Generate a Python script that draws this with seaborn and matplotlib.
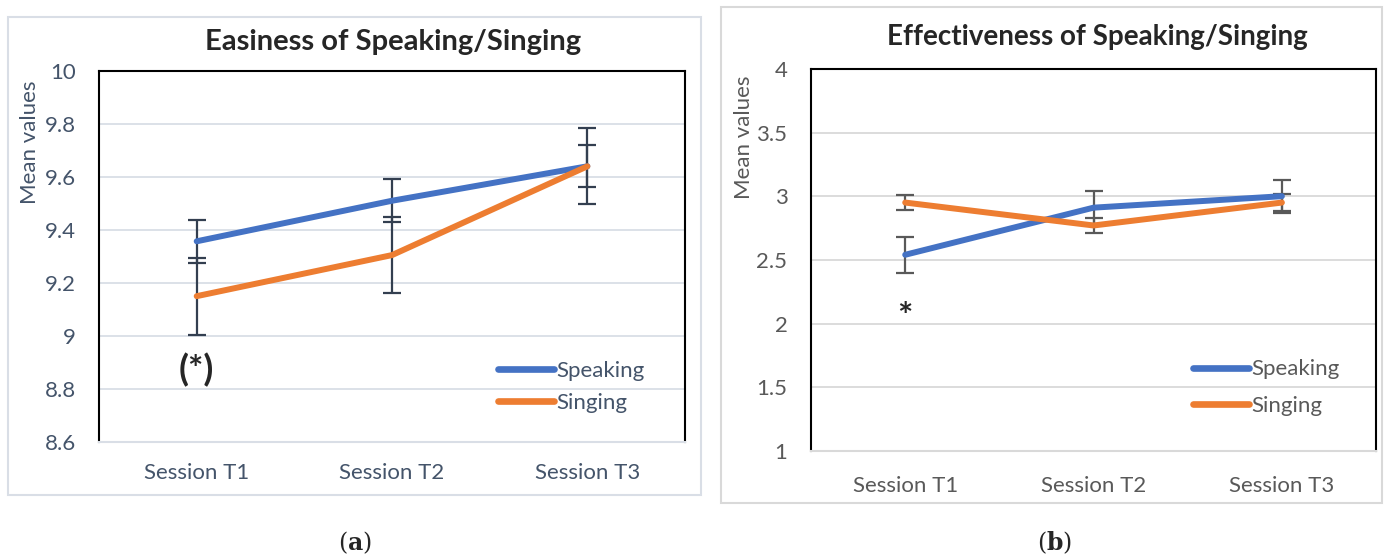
import pandas as pd
import numpy as np
import matplotlib
matplotlib.use('Agg')
import matplotlib.pyplot as plt
import seaborn as sns
from matplotlib.patches import Rectangle
from matplotlib.ticker import FuncFormatter, MultipleLocator

# data
sessions = ['Session T1', 'Session T2', 'Session T3']
ease_speaking = [9.357, 9.51, 9.64]
ease_speaking_err = [0.081, 0.082, 0.08]
ease_singing = [9.15, 9.305, 9.64]
ease_singing_err = [0.145, 0.143, 0.144]

eff_speaking = [2.54, 2.91, 3.0]
eff_speaking_err = [0.14, 0.13, 0.13]
eff_singing = [2.95, 2.77, 2.95]
eff_singing_err = [0.06, 0.06, 0.065]

series = ['Speaking', 'Singing']
colors = {'Speaking': '#4472C4', 'Singing': '#ED7D31'}

sns.set_style('white')
plt.rcParams['font.family'] = ['Lato', 'DejaVu Sans']

fig = plt.figure(figsize=(13.89, 5.58), dpi=100)

# outer chart frames
fig.patches.append(Rectangle((0.0058, 0.113), 0.499, 0.857, transform=fig.transFigure,
                             fill=False, edgecolor='#D9DEE6', lw=1.5))
fig.patches.append(Rectangle((0.519, 0.099), 0.476, 0.889, transform=fig.transFigure,
                             fill=False, edgecolor='#D9D9D9', lw=1.5))

ax1 = fig.add_axes([0.0713, 0.208, 0.4219, 0.665])
ax2 = fig.add_axes([0.5839, 0.192, 0.4068, 0.6846])

FS = 16


def draw_panel(ax, spk, spk_err, sng, sng_err, txt_color, grid_color, err_color,
               ylim, step, leg_anchor, leg_spacing, ypad, xpad, xticks_marks):
    df = pd.DataFrame({
        'session': sessions * 2,
        'mean': spk + sng,
        'err': spk_err + sng_err,
        'series': ['Speaking'] * 3 + ['Singing'] * 3,
    })
    for s in series:
        sub = df[df['series'] == s]
        ax.errorbar(sub['session'], sub['mean'], yerr=sub['err'], fmt='none',
                    ecolor=err_color, elinewidth=1.6, capsize=6.5, capthick=1.6, zorder=2)
    sns.lineplot(data=df, x='session', y='mean', hue='series', palette=colors,
                 hue_order=series, sort=False, lw=4.3, ax=ax, zorder=3,
                 solid_capstyle='round')
    ax.set_xlim(-0.5, 2.5)
    ax.set_ylim(*ylim)
    ax.yaxis.set_major_locator(MultipleLocator(step))
    ax.yaxis.set_major_formatter(FuncFormatter(lambda v, _: f'{v:g}'))
    ax.grid(axis='y', color=grid_color, lw=1.3)
    ax.set_axisbelow(True)
    ax.set_xlabel('')
    ax.set_ylabel('')
    for side in ['left', 'top', 'right']:
        ax.spines[side].set_color('black')
        ax.spines[side].set_linewidth(1.5)
    ax.spines['bottom'].set_color(grid_color)
    ax.spines['bottom'].set_linewidth(1.5)
    ax.tick_params(axis='y', length=0, labelsize=FS, labelcolor=txt_color, pad=ypad)
    ax.tick_params(axis='x', length=0, labelsize=FS, labelcolor=txt_color, pad=xpad)
    if xticks_marks:
        ax.set_xticks([-0.5, 0.5, 1.5, 2.5], minor=True)
        ax.tick_params(axis='x', which='minor', length=6, width=1.5, color=grid_color)

    handles, labels = ax.get_legend_handles_labels()
    for h in handles:
        h.set_linewidth(4.8)
        h.set_solid_capstyle('round')
    ax.legend(handles, labels, loc='center left', bbox_to_anchor=leg_anchor,
              frameon=False, fontsize=FS, labelcolor=txt_color, borderpad=0,
              borderaxespad=0, handlelength=2.5, handletextpad=0.12,
              labelspacing=leg_spacing)


draw_panel(ax1, ease_speaking, ease_speaking_err, ease_singing, ease_singing_err,
           '#44546A', '#D9DEE6', '#333F50', (8.6, 10.0), 0.2,
           (0.681, 0.148), 0.55, 16.5, 15, True)
draw_panel(ax2, eff_speaking, eff_speaking_err, eff_singing, eff_singing_err,
           '#595959', '#D9D9D9', '#595959', (1.0, 4.0), 0.5,
           (0.676, 0.165), 0.75, 17, 18, False)

# chart titles
fig.text(393 / 1389, 1 - 42 / 558, 'Easiness of Speaking/Singing', ha='center',
         va='center', fontsize=21, fontweight='bold')
fig.text(1097 / 1389, 1 - 37 / 558, 'Effectiveness of Speaking/Singing', ha='center',
         va='center', fontsize=20, fontweight='bold')

# y axis titles
fig.text(30 / 1389, 1 - 142 / 558, 'Mean values', rotation=90, ha='center', va='center',
         fontsize=FS, color='#44546A')
fig.text(744 / 1389, 1 - 137 / 558, 'Mean values', rotation=90, ha='center', va='center',
         fontsize=FS, color='#595959')

# significance marks
ax1.text(0, 8.87, '(*)', ha='center', va='center', fontsize=26, fontweight='bold')
ax2.text(0, 2.05, '*', ha='center', va='center', fontsize=26, fontweight='bold')

# panel captions
fig.text(355 / 1389, 1 - 543 / 558, r'($\mathbf{a}$)', ha='center', va='center',
         fontsize=17, family='DejaVu Serif', math_fontfamily='dejavuserif')
fig.text(1055 / 1389, 1 - 543 / 558, r'($\mathbf{b}$)', ha='center', va='center',
         fontsize=17, family='DejaVu Serif', math_fontfamily='dejavuserif')

plt.savefig('out.png', dpi=100)
